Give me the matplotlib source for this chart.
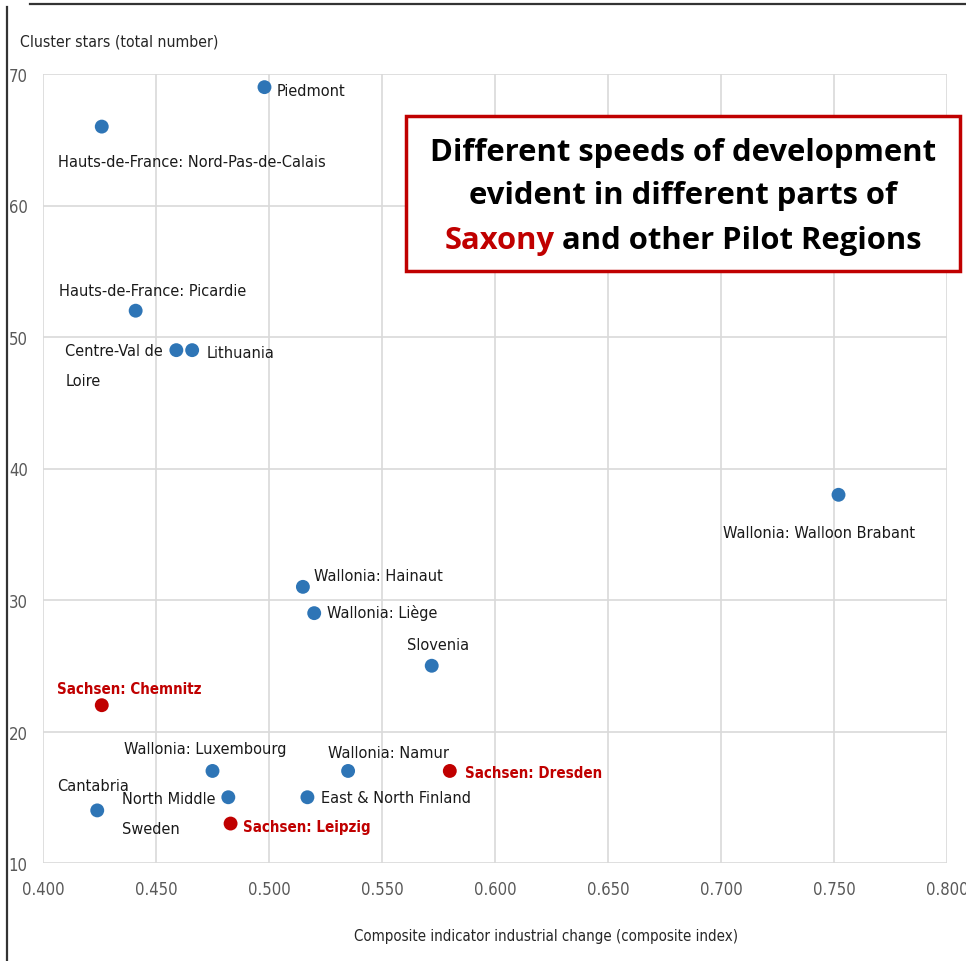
import matplotlib
matplotlib.use("Agg")
import matplotlib.pyplot as plt
from matplotlib.lines import Line2D
from matplotlib.patches import Rectangle

# Regions: composite industrial-change index vs. number of cluster stars
regions = [
    "Piedmont", "Hauts-de-France: Nord-Pas-de-Calais", "Hauts-de-France: Picardie",
    "Centre-Val de\nLoire", "Lithuania", "Wallonia: Walloon Brabant",
    "Wallonia: Hainaut", "Wallonia: Liège", "Slovenia", "Sachsen: Chemnitz",
    "Wallonia: Luxembourg", "Wallonia: Namur", "Sachsen: Dresden", "Cantabria",
    "North Middle\nSweden", "East & North Finland", "Sachsen: Leipzig",
]
industrial_change = [
    0.498, 0.426, 0.441, 0.459, 0.466, 0.752, 0.515, 0.520, 0.572, 0.426,
    0.475, 0.535, 0.580, 0.424, 0.482, 0.517, 0.483,
]
cluster_stars = [69, 66, 52, 49, 49, 38, 31, 29, 25, 22, 17, 17, 17, 14, 15, 15, 13]
is_saxony = [r.startswith("Sachsen") for r in regions]

x_ticks = [0.400, 0.450, 0.500, 0.550, 0.600, 0.650, 0.700, 0.750, 0.800]
y_ticks = [10, 20, 30, 40, 50, 60, 70]

# label placement (pixel offsets from the marker, vertical anchor)
label_pos = {
    "Piedmont": (12, -3, "center"),
    "Hauts-de-France: Nord-Pas-de-Calais": (-44, -35, "center"),
    "Hauts-de-France: Picardie": (-77, 20, "center"),
    "Centre-Val de\nLoire": (-111, 7, "top"),
    "Lithuania": (14, -2, "center"),
    "Wallonia: Walloon Brabant": (-116, -38, "center"),
    "Wallonia: Hainaut": (11, 11, "center"),
    "Wallonia: Liège": (13, 1, "center"),
    "Slovenia": (-25, 21, "center"),
    "Sachsen: Chemnitz": (-45, 17, "center"),
    "Wallonia: Luxembourg": (-88, 22, "center"),
    "Wallonia: Namur": (-20, 18, "center"),
    "Sachsen: Dresden": (15, -2, "center"),
    "Cantabria": (-40, 25, "center"),
    "North Middle\nSweden": (-106, 6, "top"),
    "East & North Finland": (14, 0, "center"),
    "Sachsen: Leipzig": (12, -3, "center"),
}

BLUE = "#2E75B6"
RED = "#C00000"
GRID = "#D9D9D9"
TICK = "#595959"
FONT = ["DejaVu Sans Condensed", "DejaVu Sans"]

plt.rcParams["font.family"] = FONT
plt.rcParams["font.stretch"] = "condensed"

W, H = 966, 962
fig = plt.figure(figsize=(W / 100, H / 100), dpi=100)
ax = fig.add_axes([43 / W, 1 - 864 / H, (947 - 43) / W, (864 - 75) / H])

ax.set_xlim(0.4, 0.8)
ax.set_ylim(10, 70)
ax.set_xticks(x_ticks)
ax.set_yticks(y_ticks)
ax.set_xticklabels([f"{v:.3f}" for v in x_ticks])
ax.set_yticklabels([str(v) for v in y_ticks])
ax.grid(True, color=GRID, linewidth=1.2)
ax.set_axisbelow(True)
for s in ax.spines.values():
    s.set_visible(False)
ax.tick_params(length=0, labelsize=12, colors=TICK, pad=12)
ax.tick_params(axis="y", pad=11)

colors = [RED if s else BLUE for s in is_saxony]
ax.scatter(industrial_change, cluster_stars, s=100, c=colors, zorder=3, linewidths=0)

for name, xv, yv, sax in zip(regions, industrial_change, cluster_stars, is_saxony):
    dx, dy, va = label_pos[name]
    ax.annotate(name, (xv, yv), xytext=(dx, dy), textcoords="offset pixels",
                ha="left", va=va, fontsize=10.8 if sax else 11.7, linespacing=2.2,
                color=RED if sax else "#1A1A1A",
                fontweight="bold" if sax else "normal", zorder=4)

fig.text(20 / W, 1 - 42 / H, "Cluster stars (total number)", fontsize=11.3,
         color="#262626", ha="left", va="center")
fig.text(546 / W, 1 - 937 / H, "Composite indicator industrial change (composite index)",
         fontsize=10.8, color="#262626", ha="center", va="center")

# annotation box
fig.add_artist(Rectangle((406 / W, 1 - 272 / H), (960 - 406) / W, (272 - 117) / H,
                         transform=fig.transFigure, facecolor="white",
                         edgecolor=RED, linewidth=2.5, zorder=5))
title_kw = dict(fontsize=22.3, fontweight="bold", family=["Open Sans", "DejaVu Sans"],
                fontstretch="normal", va="center", zorder=6)
cx = 683 / W
fig.text(cx, 1 - 153 / H, "Different speeds of development", ha="center", **title_kw)
fig.text(cx, 1 - 196 / H, "evident in different parts of", ha="center", **title_kw)

fig.canvas.draw()
r = fig.canvas.get_renderer()
t_red = fig.text(0, 1 - 241 / H, "Saxony", color=RED, ha="left", **title_kw)
t_rest = fig.text(0, 1 - 241 / H, " and other Pilot Regions", color="black", ha="left", **title_kw)
w1 = t_red.get_window_extent(r).width
w2 = t_rest.get_window_extent(r).width
x0 = 683 - (w1 + w2) / 2
t_red.set_x(x0 / W)
t_rest.set_x((x0 + w1) / W)

# frame lines
fig.add_artist(Line2D([7 / W, 7 / W], [0, 1 - 8 / H], transform=fig.transFigure,
                      color="#333333", linewidth=1.6))
fig.add_artist(Line2D([30 / W, 1], [1 - 5 / H, 1 - 5 / H], transform=fig.transFigure,
                      color="#333333", linewidth=1.6))

fig.savefig("out.png", dpi=100, facecolor="white")
